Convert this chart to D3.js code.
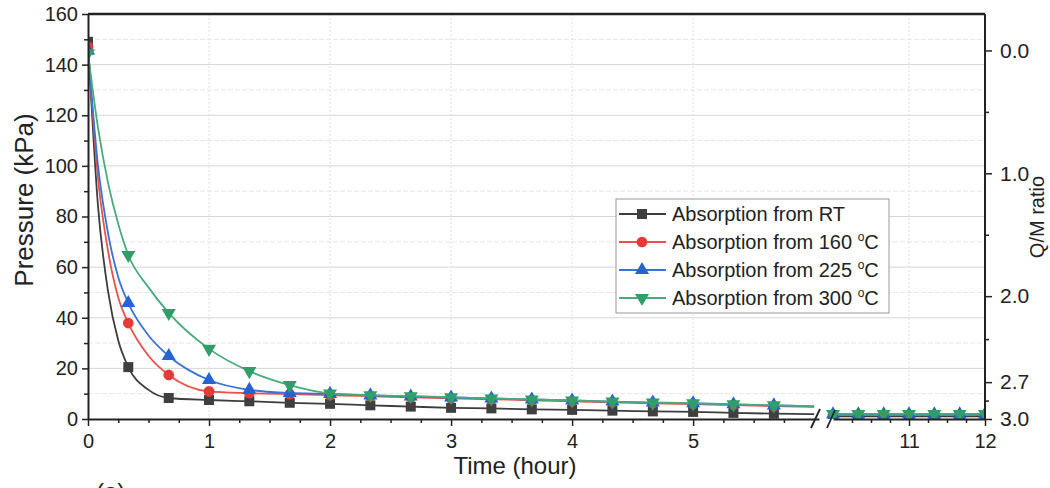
<!DOCTYPE html>
<html>
<head>
<meta charset="utf-8">
<script src="https://cdn.jsdelivr.net/npm/d3@7"></script>
<style>
body { margin: 0; background: #fff; }
svg { font-family: "Liberation Sans", Arial, sans-serif; }
</style>
</head>
<body>
<svg id="chart" width="1050" height="488"></svg>
<script>
"use strict";

// hours on the left part of the broken axis (marker points)
var timesA = [0, 0.333, 0.667, 1, 1.333, 1.667, 2, 2.333, 2.667, 3, 3.333, 3.667, 4, 4.333, 4.667, 5, 5.333, 5.667]
// hours on the right part of the broken axis
var timesB = [10, 10.333, 10.667, 11, 11.333, 11.667, 12]
// extra points, drawn without marker
var curveTimes = [0.083, 0.167, 0.25, 0.5, 6.0]

// pressure (kPa)
var rtA   = [149, 20.5, 8.3, 7.5, 7.0, 6.4, 6.0, 5.4, 4.9, 4.4, 4.2, 3.8, 3.6, 3.3, 3.0, 2.8, 2.4, 2.1]
var t160A = [147, 37.9, 17.4, 10.9, 10.2, 9.8, 9.4, 9.0, 8.6, 8.2, 7.8, 7.4, 7.0, 6.6, 6.2, 5.9, 5.5, 5.1]
var t225A = [145.5, 45.8, 24.9, 15.4, 11.5, 10.3, 9.9, 9.3, 8.9, 8.5, 8.1, 7.7, 7.3, 6.9, 6.5, 6.2, 5.8, 5.4]
var t300A = [144.5, 64.8, 41.9, 27.7, 18.9, 13.4, 10.1, 9.4, 9.0, 8.6, 8.1, 7.7, 7.3, 6.9, 6.5, 6.2, 5.8, 5.4]

var rtCurve   = [84, 50, 31, 11.5, 1.9]
var t160Curve = [95, 66, 48, 25, 4.8]
var t225Curve = [100, 73, 56, 33, 5.0]
var t300Curve = [115, 93, 77, 52, 5.1]

var rtB   = [1.0, 1.0, 1.0, 1.0, 1.0, 1.0, 1.0]
var t160B = [1.6, 1.6, 1.6, 1.6, 1.6, 1.6, 1.6]
var t225B = [1.8, 1.8, 1.8, 1.8, 1.8, 1.8, 1.8]
var t300B = [2.0, 2.0, 2.0, 2.0, 2.0, 2.0, 2.0]

var seriesNames = ["Absorption from RT", "Absorption from 160 ", "Absorption from 225 ", "Absorption from 300 "]

var pressureTicks = [0, 20, 40, 60, 80, 100, 120, 140, 160]
var ratioTicks = [0, 1, 2, 2.7, 3.0]
var ratioMinor = [0.5, 1.5, 2.35, 2.85]

var svg = d3.select("#chart")

var pLeft = 88, pRight = 985, pTop = 14, pBottom = 419

var y = d3.scaleLinear().domain([0, 160]).range([pBottom, pTop])
var xA = d3.scaleLinear().domain([0, 6.04]).range([pLeft, 819])
var xB = d3.scaleLinear().domain([10, 12]).range([833, pRight])
var q = d3.scaleLinear().domain([0, 3]).range([y(145.6), y(0)])

var series = [
    {name: seriesNames[0], a: rtA, c: rtCurve, b: rtB, line: "#3d3d3d", fill: "#3f3f3f", sym: d3.symbolSquare, size: 100, rot: 0},
    {name: seriesNames[1], a: t160A, c: t160Curve, b: t160B, line: "#e8524a", fill: "#e53b36", sym: d3.symbolCircle, size: 90, rot: 0},
    {name: seriesNames[2], a: t225A, c: t225Curve, b: t225B, line: "#3a72d6", fill: "#2563d2", sym: d3.symbolTriangle, size: 85, rot: 0},
    {name: seriesNames[3], a: t300A, c: t300Curve, b: t300B, line: "#4aab7c", fill: "#2f9e68", sym: d3.symbolTriangle, size: 85, rot: 180}
]

function drawGrid(g) {
    d3.range(10, 160, 10).forEach(v => {
        g.append("line")
            .attr("x1", pLeft).attr("x2", pRight)
            .attr("y1", y(v)).attr("y2", y(v))
            .attr("stroke", v % 20 === 0 ? "#d6d6d6" : "#e6e6e6")
            .attr("stroke-width", 1)
            .attr("stroke-dasharray", v % 20 === 0 ? null : "5,2")
    })
    var vx = [1, 2, 3, 4, 5].map(xA).concat([xB(11)])
    vx.forEach(px => {
        g.append("line")
            .attr("x1", px).attr("x2", px)
            .attr("y1", pTop).attr("y2", pBottom)
            .attr("stroke", "#e0e0e0")
            .attr("stroke-dasharray", "2,2")
    })
}

function styleTicks(sel) {
    sel.selectAll(".tick line").attr("stroke", "#222").attr("stroke-width", 1.5)
}

function drawAxes(g) {
    // left axis
    var yAxis = d3.axisLeft(y).tickValues(pressureTicks).tickSize(6).tickSizeOuter(0).tickPadding(4)
    var ax = g.append("g").attr("transform", "translate(" + pLeft + ",0)").call(yAxis)
    ax.select(".domain").attr("stroke", "#222").attr("stroke-width", 2)
    styleTicks(ax)
    ax.selectAll("text").attr("font-size", 20).attr("fill", "#222")
    var yMinor = d3.axisLeft(y).tickValues(d3.range(10, 160, 20)).tickSize(4).tickFormat("")
    var axm = g.append("g").attr("transform", "translate(" + pLeft + ",0)").call(yMinor)
    axm.select(".domain").remove()
    styleTicks(axm)

    // top frame
    g.append("line").attr("x1", pLeft).attr("x2", pRight).attr("y1", pTop).attr("y2", pTop)
        .attr("stroke", "#222").attr("stroke-width", 2.5)

    // bottom axis, left part
    var xAxisA = d3.axisBottom(xA).tickValues([0, 1, 2, 3, 4, 5]).tickSize(7).tickSizeOuter(0).tickFormat(d3.format("d"))
    var bx = g.append("g").attr("transform", "translate(0," + pBottom + ")").call(xAxisA)
    bx.select(".domain").attr("stroke", "#222").attr("stroke-width", 2)
    styleTicks(bx)
    bx.selectAll("text").attr("font-size", 20).attr("fill", "#222").attr("dy", "0.95em")
    var minorA = d3.range(0.25, 6, 0.25).filter(v => v % 1 !== 0)
    var bxm = g.append("g").attr("transform", "translate(0," + pBottom + ")")
        .call(d3.axisBottom(xA).tickValues(minorA).tickSize(4).tickFormat(""))
    bxm.select(".domain").remove()
    styleTicks(bxm)

    // bottom axis, right part
    var xAxisB = d3.axisBottom(xB).tickValues([11, 12]).tickSize(7).tickSizeOuter(0).tickFormat(d3.format("d"))
    var bb = g.append("g").attr("transform", "translate(0," + pBottom + ")").call(xAxisB)
    bb.select(".domain").attr("stroke", "#222").attr("stroke-width", 2)
    styleTicks(bb)
    bb.selectAll("text").attr("font-size", 20).attr("fill", "#222").attr("dy", "0.95em")
    var bbm = g.append("g").attr("transform", "translate(0," + pBottom + ")")
        .call(d3.axisBottom(xB).tickValues([10.25, 10.5, 10.75, 11.25, 11.5, 11.75]).tickSize(4).tickFormat(""))
    bbm.select(".domain").remove()
    styleTicks(bbm)

    // break marks
    var breaks = [[811, 428, 820, 409], [827, 428, 835, 410]]
    breaks.forEach(s => {
        g.append("line").attr("x1", s[0]).attr("y1", s[1]).attr("x2", s[2]).attr("y2", s[3])
            .attr("stroke", "#222").attr("stroke-width", 1.8)
    })

    // right axis
    var rAxis = d3.axisRight(q).tickValues(ratioTicks).tickSize(7).tickSizeOuter(0).tickPadding(8).tickFormat(d3.format(".1f"))
    var rx = g.append("g").attr("transform", "translate(" + pRight + ",0)").call(rAxis)
    rx.select(".domain").remove()
    styleTicks(rx)
    rx.selectAll("text").attr("font-size", 21).attr("fill", "#222")
    var rxm = g.append("g").attr("transform", "translate(" + pRight + ",0)")
        .call(d3.axisRight(q).tickValues(ratioMinor).tickSize(4).tickFormat(""))
    rxm.select(".domain").remove()
    styleTicks(rxm)
    g.append("line").attr("x1", pRight).attr("x2", pRight).attr("y1", pTop).attr("y2", pBottom)
        .attr("stroke", "#222").attr("stroke-width", 2)
}

function drawSeries(g) {
    var lineA = d3.line().x(d => xA(d.t)).y(d => y(d.p)).curve(d3.curveMonotoneX)
    var lineB = d3.line().x(d => xB(d.t)).y(d => y(d.p)).curve(d3.curveMonotoneX)

    series.forEach(s => {
        var ptsA = timesA.map((t, i) => ({t: t, p: s.a[i]}))
        var ptsC = curveTimes.map((t, i) => ({t: t, p: s.c[i]}))
        var full = ptsA.concat(ptsC).sort((a, b) => a.t - b.t)
        var ptsB = timesB.map((t, i) => ({t: t, p: s.b[i]}))

        g.append("path").datum(full).attr("d", lineA)
            .attr("fill", "none").attr("stroke", s.line).attr("stroke-width", 1.8)
        g.append("path").datum(ptsB).attr("d", lineB)
            .attr("fill", "none").attr("stroke", s.line).attr("stroke-width", 1.8)

        var sym = d3.symbol().type(s.sym).size(s.size)
        g.selectAll(null).data(ptsA).enter().append("path")
            .attr("d", sym)
            .attr("fill", s.fill)
            .attr("transform", d => "translate(" + xA(d.t) + "," + y(d.p) + ") rotate(" + s.rot + ")")
        g.selectAll(null).data(ptsB).enter().append("path")
            .attr("d", sym)
            .attr("fill", s.fill)
            .attr("transform", d => "translate(" + xB(d.t) + "," + y(d.p) + ") rotate(" + s.rot + ")")
    })
}

function drawLegend(g) {
    var lg = g.append("g").attr("transform", "translate(616,199)")
    lg.append("rect").attr("width", 273).attr("height", 114)
        .attr("fill", "#fff").attr("stroke", "#9a9a9a").attr("stroke-width", 1)
    series.forEach((s, i) => {
        var ry = 15 + i * 28
        lg.append("line").attr("x1", 3).attr("x2", 50).attr("y1", ry).attr("y2", ry)
            .attr("stroke", s.line).attr("stroke-width", 1.8)
        lg.append("path").attr("d", d3.symbol().type(s.sym).size(s.size)())
            .attr("fill", s.fill)
            .attr("transform", "translate(26," + ry + ") rotate(" + s.rot + ")")
        var t = lg.append("text").attr("x", 56).attr("y", ry + 7)
            .attr("font-size", 20).attr("fill", "#222")
        t.append("tspan").text(s.name)
        if (i > 0) {
            t.append("tspan").text("o").attr("font-size", 12).attr("dy", -8)
            t.append("tspan").text("C").attr("dy", 8)
        }
    })
}

function drawTitles(g) {
    g.append("text").attr("x", 515).attr("y", 474).attr("text-anchor", "middle")
        .attr("font-size", 24).attr("fill", "#222").text("Time (hour)")
    g.append("text").attr("transform", "translate(33,200) rotate(-90)").attr("text-anchor", "middle")
        .attr("font-size", 26).attr("fill", "#222").text("Pressure (kPa)")
    g.append("text").attr("transform", "translate(1044,217) rotate(-90)").attr("text-anchor", "middle")
        .attr("font-size", 20).attr("fill", "#222").text("Q/M ratio")
    g.append("text").attr("x", 96).attr("y", 500)
        .attr("font-size", 24).attr("fill", "#222").text("(a)")
}

svg.append("defs").append("clipPath").attr("id", "plotClip")
    .append("rect").attr("x", pLeft + 1).attr("y", pTop).attr("width", pRight - pLeft - 1).attr("height", pBottom - pTop)

drawGrid(svg.append("g"))
drawSeries(svg.append("g").attr("clip-path", "url(#plotClip)"))
drawAxes(svg.append("g"))
drawLegend(svg.append("g"))
drawTitles(svg.append("g"))
</script>
</body>
</html>
